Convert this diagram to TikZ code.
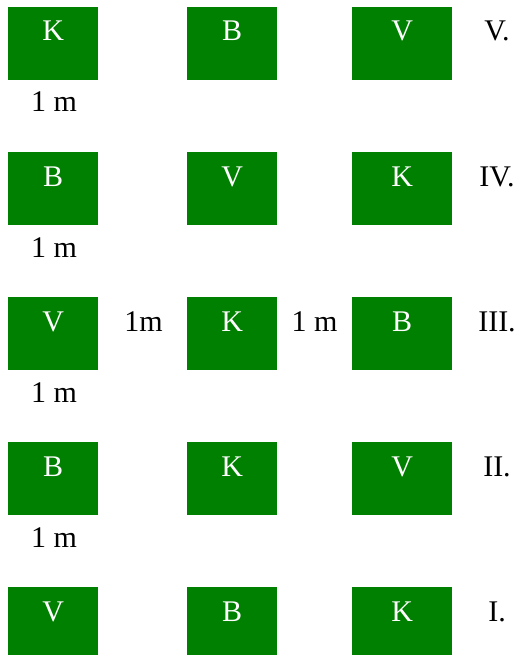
\documentclass[tikz,border=0pt]{standalone}
\usepackage{fontspec}
\setmainfont{Liberation Serif}
\definecolor{boxgreen}{HTML}{008000}
\begin{document}
\begin{tikzpicture}[x=1pt,y=1pt,
  gbox/.style={fill=boxgreen, draw=none, inner sep=0pt, anchor=north west},
  lett/.style={text=white, font=\fontsize{30}{30}\selectfont, anchor=base, inner sep=0pt},
  lab/.style={text=black, font=\fontsize{30}{30}\selectfont, anchor=base, inner sep=0pt}]
\useasboundingbox (0,0) rectangle (521,-655);
\begin{scope}
\clip (0,0) rectangle (521,-655);
\foreach \r/\top/\a/\b/\c/\num in {1/7/K/B/V/V., 2/152/B/V/K/IV., 3/297/V/K/B/III., 4/442/B/K/V/II., 5/587/V/B/K/I.}{
  \node[gbox, minimum width=90pt, minimum height=73pt] (b\r a) at (8,-\top) {};
  \node[gbox, minimum width=90pt, minimum height=73pt] (b\r b) at (187,-\top) {};
  \node[gbox, minimum width=100pt, minimum height=73pt] (b\r c) at (352,-\top) {};
  \node[lett] (t\r a) at ([yshift=-34pt]b\r a.north) {\a};
  \node[lett] (t\r b) at ([yshift=-34pt]b\r b.north) {\b};
  \node[lett] (t\r c) at ([yshift=-34pt]b\r c.north) {\c};
  \node[lab] (n\r) at (497,-\top-34) {\num};
}
\end{scope}
\foreach \r/\top in {1/7, 2/152, 3/297, 4/442}{
  \node[lab] (m\r) at (54,-\top-105) {1 m};
}
\node[lab] (mh1) at (143.5,-331) {1m};
\node[lab] (mh2) at (314.5,-331) {1 m};
\end{tikzpicture}
\end{document}
